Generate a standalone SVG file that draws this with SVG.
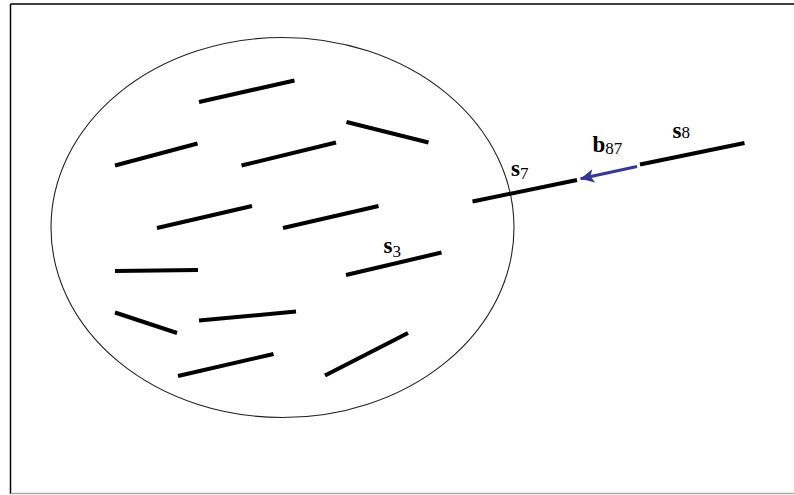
<svg xmlns="http://www.w3.org/2000/svg" width="794" height="495" viewBox="0 0 794 495">
  <style>
    .seg { stroke: #000; stroke-width: 4; stroke-linecap: butt; fill: none; }
    .lbl { font-family: "Liberation Serif", "Times New Roman", serif; font-size: 23px; font-weight: bold; fill: #000; }
    .sub { font-size: 17px; font-weight: normal; }
    .frame { stroke: #000; stroke-width: 1.5; fill: none; }
  </style>
  <defs>
    <marker id="ah" viewBox="0 0 10 10" refX="10" refY="5" markerWidth="4.5" markerHeight="4.5" markerUnits="strokeWidth" orient="auto">
      <path d="M0,0 L10,5 L0,10 L2.5,5 Z" fill="#3535a0"/>
    </marker>
  </defs>
  <rect width="794" height="495" fill="#fff"/>
  <g id="frame">
    <line class="frame" x1="10.5" y1="4" x2="794" y2="4"/>
    <line class="frame" x1="10.5" y1="4" x2="10.5" y2="494"/>
    <line x1="10.5" y1="493.5" x2="794" y2="493.5" stroke="#aaa" stroke-width="1.5"/>
  </g>
  <g id="region">
    <ellipse cx="282.5" cy="227.5" rx="231.5" ry="190" fill="none" stroke="#222" stroke-width="1.1"/>
  </g>
  <g id="segments">
    <line class="seg" x1="199" y1="102" x2="294.5" y2="80.5"/>
    <line class="seg" x1="346.5" y1="122" x2="428.5" y2="142.5"/>
    <line class="seg" x1="115" y1="165.5" x2="197.5" y2="143.5"/>
    <line class="seg" x1="241.5" y1="165.5" x2="336" y2="142.5"/>
    <line class="seg" x1="157" y1="228" x2="252" y2="206"/>
    <line class="seg" x1="283" y1="228" x2="378.5" y2="206"/>
    <line class="seg" x1="115" y1="271" x2="198" y2="270"/>
    <line class="seg" x1="346" y1="275" x2="441.5" y2="252.5"/>
    <line class="seg" x1="115" y1="312.5" x2="177" y2="333"/>
    <line class="seg" x1="199" y1="320.5" x2="296" y2="311.5"/>
    <line class="seg" x1="178" y1="376" x2="273.5" y2="354"/>
    <line class="seg" x1="325" y1="375.5" x2="408" y2="333"/>
  </g>
  <g id="s7">
    <line class="seg" x1="472.5" y1="201.5" x2="577" y2="180"/>
  </g>
  <g id="s8">
    <line class="seg" x1="640" y1="164.5" x2="744.5" y2="143"/>
  </g>
  <g id="connectors">
    <line id="b87" x1="637" y1="166.5" x2="580.5" y2="178.7" stroke="#3535a0" stroke-width="3" marker-end="url(#ah)"/>
  </g>
  <g id="labels">
    <text class="lbl" x="511" y="175.5">s<tspan class="sub" dy="3">7</tspan></text>
    <text class="lbl" x="592.5" y="151.5">b<tspan class="sub" dy="2">87</tspan></text>
    <text class="lbl" x="672.5" y="137.5">s<tspan class="sub" dy="0.5">8</tspan></text>
    <text class="lbl" x="383.5" y="252.5">s<tspan class="sub" dy="4">3</tspan></text>
  </g>
</svg>
